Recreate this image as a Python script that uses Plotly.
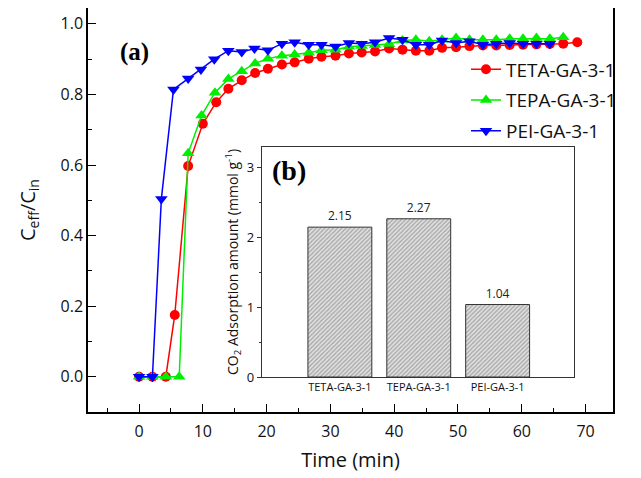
import plotly.graph_objects as go

# ---- data: breakthrough curves ----
teta_t = [0, 2.1, 4.2, 5.6, 7.7, 10.0, 12.1, 14.0, 16.1, 18.2, 20.2, 22.4, 24.4, 26.6, 28.6, 30.8, 32.9,
          34.9, 37.0, 39.2, 41.3, 43.4, 45.5, 47.5, 49.7, 51.8, 53.9, 56.0, 58.1, 60.2, 62.3, 64.4, 66.5, 68.7]
teta_y = [0, 0, 0, 0.175, 0.597, 0.717, 0.778, 0.816, 0.840, 0.861, 0.873, 0.885, 0.891, 0.901, 0.907, 0.910,
          0.916, 0.919, 0.922, 0.930, 0.927, 0.924, 0.924, 0.932, 0.934, 0.937, 0.939, 0.939, 0.940, 0.941,
          0.942, 0.943, 0.944, 0.948]

tepa_t = [0, 2.1, 4.2, 6.3, 7.7, 9.8, 11.9, 14.0, 16.1, 18.2, 20.2, 22.4, 24.4, 26.6, 28.6, 30.8, 32.9,
          34.9, 37.0, 39.2, 41.3, 43.4, 45.5, 47.5, 49.7, 51.8, 53.9, 56.0, 58.1, 60.2, 62.3, 64.4, 66.5]
tepa_y = [0, 0, 0, 0, 0.633, 0.740, 0.805, 0.844, 0.866, 0.888, 0.901, 0.910, 0.913, 0.918, 0.925, 0.927,
          0.935, 0.937, 0.940, 0.943, 0.953, 0.955, 0.951, 0.955, 0.960, 0.955, 0.955, 0.955, 0.958, 0.958,
          0.960, 0.958, 0.962]

pei_t = [0, 2.1, 3.5, 5.4, 7.7, 9.7, 11.8, 14.0, 16.1, 18.1, 20.2, 22.4, 24.4, 26.6, 28.6, 30.8, 32.9,
         34.9, 37.0, 39.2, 41.3, 43.4, 45.5, 47.5, 49.7, 51.8, 53.9, 56.0, 58.1, 60.2, 62.3, 64.4]
pei_y = [0, 0, 0.504, 0.814, 0.845, 0.871, 0.900, 0.924, 0.920, 0.930, 0.925, 0.944, 0.948, 0.941, 0.941,
         0.936, 0.946, 0.944, 0.948, 0.960, 0.955, 0.941, 0.941, 0.953, 0.946, 0.951, 0.941, 0.944, 0.946,
         0.944, 0.944, 0.944]

series_names = ["TETA-GA-3-1", "TEPA-GA-3-1", "PEI-GA-3-1"]

# ---- data: inset bars ----
bar_labels = ["TETA-GA-3-1", "TEPA-GA-3-1", "PEI-GA-3-1"]
bar_values = [2.15, 2.27, 1.04]
bar_pos = [0, 1, 2]

FONT = "Open Sans"

fig = go.Figure()

styles = [
    (teta_t, teta_y, "#ff0000", "circle", 10),
    (tepa_t, tepa_y, "#00ee00", "triangle-up", 11),
    (pei_t, pei_y, "#0000ff", "triangle-down", 11),
]
for name, (t, y, col, sym, sz) in zip(series_names, styles):
    fig.add_trace(go.Scatter(
        x=t, y=y, name=name, mode="lines+markers", legendgroup=name,
        line=dict(color=col, width=1.5),
        marker=dict(color=col, symbol=sym, size=sz, line=dict(width=0)),
        xaxis="x", yaxis="y",
    ))

fig.add_trace(go.Bar(
    x=bar_pos, y=bar_values, width=0.81, showlegend=False,
    text=[f"{v:.2f}" for v in bar_values], textposition="outside",
    textfont=dict(family=FONT, size=12, color="#222"), cliponaxis=False,
    marker=dict(color="#d9d9d9",
                pattern=dict(shape="/", size=3, solidity=0.4, fgcolor="#666666", bgcolor="#e0e0e0"),
                line=dict(color="#333333", width=1)),
    xaxis="x2", yaxis="y2",
))

fig.update_layout(
    width=641, height=478,
    margin=dict(l=80, r=36, t=0, b=74),
    plot_bgcolor="white", paper_bgcolor="white",
    font=dict(family=FONT, color="#111"),
    xaxis=dict(
        domain=[0, 1], range=[-8, 74.3], showgrid=False, zeroline=False, automargin=False,
        showline=True, linecolor="black", linewidth=1.5, mirror=True,
        ticks="inside", ticklen=8, tickwidth=1.2, tickcolor="black", dtick=10, tick0=0,
        minor=dict(ticks="inside", ticklen=4, dtick=5, tickcolor="black", tickwidth=1),
        tickfont=dict(size=16, family=FONT), ticklabelstandoff=4,
        title=dict(text="Time (min)", font=dict(size=20, family=FONT), standoff=12),
    ),
    yaxis=dict(
        domain=[0, 1], range=[-0.1, 1.045], showgrid=False, zeroline=False, automargin=False,
        showline=True, linecolor="black", linewidth=1.5, mirror=True,
        ticks="inside", ticklen=8, tickwidth=1.2, tickcolor="black", dtick=0.2, tick0=0,
        tickformat=".1f",
        minor=dict(ticks="inside", ticklen=4, dtick=0.1, tickcolor="black", tickwidth=1),
        tickfont=dict(size=16, family=FONT),
        title=dict(text="C<sub>eff</sub>/C<sub>in</sub>", font=dict(size=20, family=FONT), standoff=20),
    ),
    xaxis2=dict(
        domain=[0.331, 0.926], anchor="y2", range=[-0.99, 2.97], automargin=False,
        tickvals=bar_pos, ticktext=bar_labels, ticks="",
        showgrid=False, zeroline=False, showline=True, linecolor="#333", linewidth=1, mirror=True,
        tickfont=dict(size=11, family=FONT, color="#111"),
    ),
    yaxis2=dict(
        domain=[0.0866, 0.656], anchor="x2", range=[0, 3.3], automargin=False,
        tickvals=[0, 1, 2, 3], ticks="outside", ticklen=4, tickcolor="#333",
        minor=dict(ticks="outside", ticklen=2, dtick=0.5, tickcolor="#333"),
        showgrid=False, zeroline=False, showline=True, linecolor="#333", linewidth=1, mirror=True,
        tickfont=dict(size=13, family=FONT, color="#111"),
        title=dict(text="CO<sub>2</sub> Adsorption amount (mmol g<sup>-1</sup>)",
                   font=dict(size=14, family=FONT), standoff=4),
    ),
    legend=dict(
        x=0.72, y=0.895, xanchor="left", yanchor="top",
        bgcolor="rgba(0,0,0,0)", borderwidth=0,
        font=dict(size=19, family=FONT, color="#111"),
        tracegroupgap=3,
    ),
    annotations=[
        dict(text="<b>(a)</b>", x=0.058, y=0.89, xref="paper", yref="paper",
             xanchor="left", yanchor="middle", showarrow=False,
             font=dict(family="Liberation Serif", size=25, color="black")),
        dict(text="<b>(b)</b>", x=0.346, y=0.597, xref="paper", yref="paper",
             xanchor="left", yanchor="middle", showarrow=False,
             font=dict(family="Liberation Serif", size=28, color="black")),
    ],
)

fig.write_html("out.html")
